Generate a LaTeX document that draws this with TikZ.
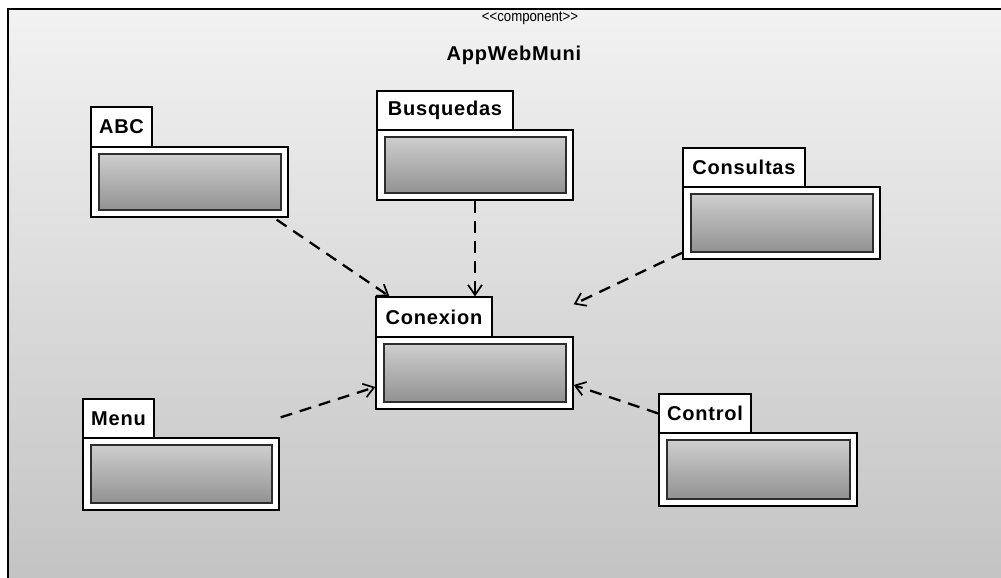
\documentclass[tikz,border=0pt]{standalone}
\usepackage{fontspec}
\setmainfont{Liberation Sans}
\newfontfamily\stfont{Liberation Sans}
\newfontfamily\lblfont{Liberation Sans}[LetterSpace=4]
\usetikzlibrary{arrows.meta,calc}
\definecolor{bgtop}{RGB}{242,242,242}
\definecolor{bgbot}{RGB}{194,194,194}
\definecolor{intop}{RGB}{206,206,206}
\definecolor{inbot}{RGB}{146,146,146}
\definecolor{inedge}{RGB}{45,45,45}
\tikzset{
  lbl/.style={font=\lblfont\fontsize{20}{23}\selectfont\bfseries},
  tabbox/.style={lbl, draw=black, fill=white, line width=1.3pt, inner sep=0pt},
  bodybox/.style={draw=black, fill=white, line width=1.3pt, inner sep=0pt},
  innerbox/.style={draw=inedge, top color=intop, bottom color=inbot, line width=1.6pt, inner sep=0pt},
  dep/.style={draw=black, line width=2.3pt, dash pattern=on 12pt off 8pt,
    -{Straight Barb[length=10pt,width=14pt,line width=1.7pt]}}
}
\newcommand\pkgbox[8]{%
  \node[tabbox, minimum width={#5-#3}, minimum height={#6-#4}] (#1-tab) at ({(#3+#5)/2},{(#4+#6)/2}) {#2};
  \node[bodybox, minimum width={#7-#3}, minimum height={#8-#6}] (#1) at ({(#3+#7)/2},{(#6+#8)/2}) {};
  \node[innerbox, minimum width={#7-#3-15}, minimum height={#8-#6-14}] (#1-in) at ({(#3+#7)/2+0.5},{(#6+#8)/2}) {};
}
\begin{document}
\begin{tikzpicture}[x=1pt,y=-1pt]
\useasboundingbox (0,0) rectangle (1001,578);
\clip (0,0) rectangle (1001,578);
\fill[white] (0,0) rectangle (1001,578);
\fill[top color=bgtop, bottom color=bgbot] (8,9) rectangle (1015,595);
\draw[line width=1.3pt] (8,595) -- (8,9) -- (1015,9);

\node[font=\stfont\fontsize{15}{17}\selectfont, xscale=0.88, transform shape] (stereo) at (530,18) {<<component>>};
\node[lbl] (title) at (514,55) {AppWebMuni};

\pkgbox{abc}{ABC}{91}{107}{152}{147}{288}{217}
\pkgbox{busq}{Busquedas}{377}{91}{513}{130}{573}{200}
\pkgbox{cons}{Consultas}{683}{148}{805}{187}{880}{259}
\pkgbox{conexion}{Conexion}{376}{297}{492}{337}{573}{409}
\pkgbox{menu}{Menu}{83}{399}{154}{438}{279}{510}
\pkgbox{control}{Control}{659}{394}{751}{433}{857}{506}

\draw[dep] ($(abc.south east)+(-12,2)$) -- ($(conexion-tab.north west)+(14,0)$);
\draw[dep] (busq.south) -- (busq.south |- conexion-tab.north);
\draw[dep] ($(cons.south west)+(0,-7)$) -- ($(conexion.north east)+(0,-32)$);
\draw[dep] ($(menu.north east)+(1,-20)$) -- ($(conexion.west)+(0,14)$);
\draw[dep] (control-tab.west) -- ($(conexion.east)+(0,12)$);
\end{tikzpicture}
\end{document}
